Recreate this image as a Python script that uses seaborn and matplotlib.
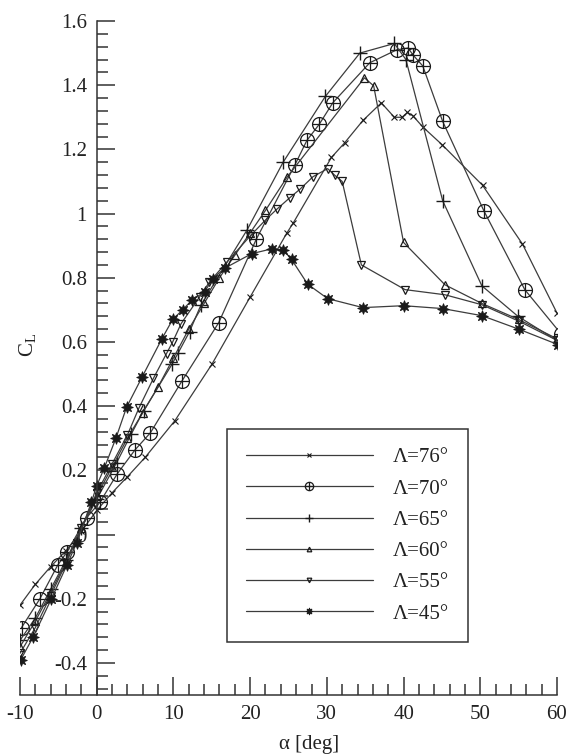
import matplotlib
matplotlib.use("Agg")
import matplotlib.pyplot as plt
import seaborn as sns
import numpy as np
from matplotlib.path import Path
from matplotlib.ticker import MultipleLocator, FuncFormatter

# Lift coefficient vs. angle of attack for delta wings of several sweep angles
alpha_76 = [-10, -8, -6, -4, -2, 0, 2, 4, 6.3, 10.2, 15, 20, 24.8, 25.6, 30.6, 32.3, 34.7, 37.1,
            38.8, 39.8, 40.5, 41.2, 42.5, 45, 50.3, 55.5, 60]
cl_76 = [-0.22, -0.155, -0.10, -0.05, 0.01, 0.075, 0.13, 0.18, 0.24, 0.355, 0.53, 0.74, 0.94, 0.97,
         1.175, 1.22, 1.29, 1.345, 1.30, 1.30, 1.315, 1.305, 1.27, 1.215, 1.088, 0.905, 0.69]

alpha_70 = [-9.8, -7.4, -5.1, -3.9, -1.3, 0.4, 2.7, 5.0, 7.0, 11.1, 15.9, 20.8, 25.8, 27.4, 29.0,
            30.8, 35.6, 39.1, 40.6, 41.2, 42.5, 45.1, 50.5, 55.8, 60.5]
cl_70 = [-0.29, -0.20, -0.096, -0.055, 0.053, 0.10, 0.19, 0.264, 0.317, 0.478, 0.66, 0.92, 1.15,
         1.228, 1.278, 1.346, 1.47, 1.51, 1.516, 1.495, 1.46, 1.287, 1.007, 0.763, 0.626]

alpha_65 = [-10, -8, -6, -4, -2, 0, 2.6, 4.5, 6.1, 9.8, 10.6, 12.1, 13.6, 19.6, 24.3, 29.8, 34.3,
            38.8, 40.3, 45.1, 50.2, 54.9, 60.3]
cl_65 = [-0.33, -0.26, -0.17, -0.08, 0.02, 0.11, 0.224, 0.313, 0.385, 0.53, 0.565, 0.632, 0.716,
         0.949, 1.16, 1.365, 1.50, 1.53, 1.48, 1.04, 0.775, 0.68, 0.60]

alpha_60 = [-10, -8, -6, -4, -2, 0, 2, 4, 6, 8, 10, 12, 14, 16, 18, 20, 22, 24.8, 34.9, 36.1,
            40, 45.4, 50.2, 55, 60]
cl_60 = [-0.35, -0.27, -0.18, -0.085, 0.02, 0.12, 0.21, 0.30, 0.38, 0.46, 0.55, 0.64, 0.72, 0.80,
         0.87, 0.94, 1.01, 1.113, 1.423, 1.398, 0.91, 0.778, 0.72, 0.67, 0.61]

alpha_55 = [-10, -8, -6, -4, -2, 0, 2, 4, 5.5, 7.4, 9.1, 9.9, 11, 13.4, 14.7, 17, 20, 22, 23.5,
            25.2, 26.5, 28.2, 30.1, 31, 32, 34.5, 40.2, 45.4, 50.2, 55, 60]
cl_55 = [-0.37, -0.29, -0.19, -0.09, 0.02, 0.13, 0.22, 0.31, 0.394, 0.487, 0.564, 0.60, 0.657,
         0.74, 0.787, 0.85, 0.93, 0.98, 1.014, 1.05, 1.076, 1.115, 1.14, 1.12, 1.10, 0.84, 0.763,
         0.747, 0.716, 0.665, 0.605]

alpha_45 = [-9.9, -8.3, -5.9, -3.9, -2.6, -0.7, 0, 1.0, 2.5, 3.9, 5.9, 8.5, 9.9, 11.2, 12.4, 14.1,
            15.1, 16.7, 20.2, 22.8, 24.3, 25.4, 27.5, 30.1, 34.7, 40, 45.1, 50.2, 55, 60.1]
cl_45 = [-0.39, -0.32, -0.20, -0.096, -0.025, 0.10, 0.152, 0.208, 0.30, 0.397, 0.49, 0.61, 0.67,
         0.70, 0.73, 0.757, 0.797, 0.83, 0.875, 0.89, 0.887, 0.857, 0.78, 0.735, 0.707, 0.713,
         0.704, 0.682, 0.64, 0.592]

labels = ["Λ=76°", "Λ=70°", "Λ=65°", "Λ=60°", "Λ=55°", "Λ=45°"]

x_ticks = [-10, 0, 10, 20, 30, 40, 50, 60]
y_ticks = [-0.4, -0.2, 0, 0.2, 0.4, 0.6, 0.8, 1.0, 1.2, 1.4, 1.6]

sns.set_theme(style="white")
plt.rcParams["font.family"] = ["Liberation Serif", "DejaVu Serif"]
plt.rcParams["mathtext.fontset"] = "custom"
plt.rcParams["mathtext.rm"] = "Liberation Serif"
plt.rcParams["mathtext.it"] = "Liberation Serif"
plt.rcParams["axes.unicode_minus"] = False

# circle with a cross inside
oplus = Path.make_compound_path(
    Path.unit_circle(),
    Path([[-1, 0], [1, 0]], [Path.MOVETO, Path.LINETO]),
    Path([[0, -1], [0, 1]], [Path.MOVETO, Path.LINETO]),
)

styles = [
    dict(marker="x", markersize=5, markerfacecolor="none", markeredgewidth=0.8),
    dict(marker=oplus, markersize=10, markerfacecolor="none", markeredgewidth=0.9),
    dict(marker="+", markersize=10, markerfacecolor="none", markeredgewidth=1.0),
    dict(marker="^", markersize=5.5, markerfacecolor="none", markeredgewidth=0.9),
    dict(marker="v", markersize=5.5, markerfacecolor="none", markeredgewidth=0.9),
    dict(marker=(8, 1, 0), markersize=8.5, markerfacecolor="k", markeredgewidth=0.6),
]
series = [(alpha_76, cl_76), (alpha_70, cl_70), (alpha_65, cl_65),
          (alpha_60, cl_60), (alpha_55, cl_55), (alpha_45, cl_45)]

fig = plt.figure(figsize=(5.68, 7.56), dpi=100)
ax = fig.add_axes([20 / 568, 1 - 695 / 756, 537 / 568, 674 / 756])

line_color = "#3c3c3c"
for (a, c), st in zip(series, styles):
    sns.lineplot(x=a, y=c, ax=ax, sort=False, estimator=None, color=line_color,
                 linewidth=0.9, markeredgecolor="k", **st)

ax.set_xlim(-10, 60)
ax.set_ylim(-0.5, 1.6)

for s in ["top", "right"]:
    ax.spines[s].set_visible(False)
ax.spines["left"].set_position(("data", 0))
for s in ["left", "bottom"]:
    ax.spines[s].set_color("#333333")
    ax.spines[s].set_linewidth(1.1)

ax.set_xticks(x_ticks)
ax.set_yticks(y_ticks)
ax.xaxis.set_minor_locator(MultipleLocator(2))
ax.yaxis.set_minor_locator(MultipleLocator(0.04))
ax.yaxis.set_major_formatter(FuncFormatter(lambda v, _: "%g" % round(v, 2) if abs(v) > 1e-9 else "0"))
ax.xaxis.set_major_formatter(FuncFormatter(lambda v, _: "%g" % v))
ax.tick_params(which="major", direction="in", length=13, width=1.1, color="#333333",
               labelsize=15, labelcolor="#222222", pad=7)
ax.tick_params(which="minor", direction="in", length=8, width=1.1, color="#333333")
ax.tick_params(axis="x", which="both", bottom=True, top=False)
ax.tick_params(axis="y", which="both", left=True, right=False)
ax.set_xlabel("")
ax.set_ylabel("")
ax.grid(False)

fig.text(28 / 568, 1 - 345 / 756, r"C$_{\mathrm{L}}$", rotation=90, ha="center", va="center",
         fontsize=15, color="#222222")
fig.text(309 / 568, 1 - 744 / 756, "α [deg]", ha="center", va="center", fontsize=15,
         color="#222222")

handles = list(ax.get_lines())[:6]
leg = ax.legend(handles, labels, loc="upper left", bbox_to_anchor=(227 / 568, 1 - 429 / 756),
                bbox_transform=fig.transFigure, borderaxespad=0, fontsize=15, frameon=True,
                fancybox=False, framealpha=1, edgecolor="#333333", handlelength=6.1,
                handletextpad=0.95, labelspacing=0.56, borderpad=0.9, markerscale=0.6,
                numpoints=1)
leg.get_frame().set_linewidth(1.1)
for t in leg.get_texts():
    t.set_color("#222222")

fig.savefig("out.png", dpi=100)
